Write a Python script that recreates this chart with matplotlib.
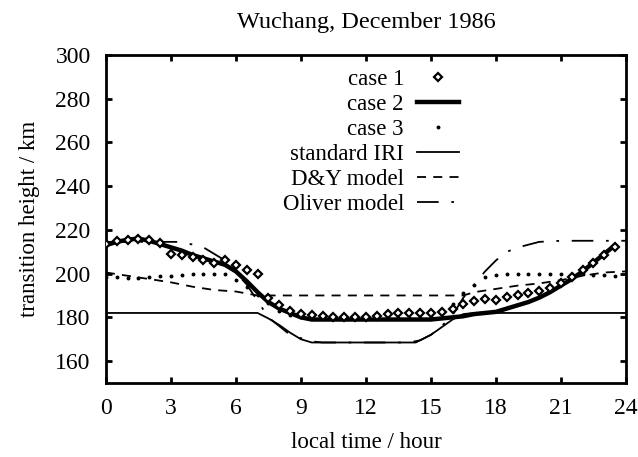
import numpy as np
import matplotlib
matplotlib.use('Agg')
import matplotlib.pyplot as plt

plt.rcParams['font.family'] = ['Liberation Serif', 'DejaVu Serif']

# local time (hours) for the half-hourly cases
hours = np.arange(0, 24, 0.5)

# case 1 (diamonds)
case1 = [213.5, 215, 215.5, 216, 215.5, 214, 209, 208.5, 207.5, 206,
         205, 206, 204, 201.5, 200, 189, 185.5, 183, 181.5, 181,
         180.5, 180, 180, 180, 180, 180.5, 181.5, 182, 182, 182,
         182, 182.5, 184, 186, 187.5, 188.5, 188, 189.5, 190, 191,
         192, 193.5, 195.5, 198.5, 201.5, 205, 208.5, 212]

# case 2 (thick line)
case2 = [213, 214.5, 215.5, 216, 215, 213.5, 212, 210.5, 208.5, 207,
         205.5, 204, 201, 196.5, 191.5, 187, 184, 182, 180, 179,
         179, 179, 179, 179, 179, 179, 179, 179, 179, 179,
         179, 179.5, 180, 180.5, 181.5, 182, 182.5, 184, 185.5, 187,
         189, 191.5, 194.5, 197.5, 201, 205, 209, 213]

# case 3 (dots)
case3 = [198.5, 198.5, 198, 198, 198.5, 199, 199, 199.5, 200, 200,
         200, 200, 197, 194, 190, 186.5, 183, 181, 180, 179.5,
         179.5, 179.5, 179.5, 179.5, 179.5, 179.5, 179.5, 179.5, 179.5, 179.5,
         180, 182, 186, 191, 195, 198.5, 199.5, 200, 200, 200,
         200, 200, 200, 200, 200, 199.5, 199.5, 199]

# standard IRI
iri_t = [0, 7, 7.5, 8, 8.5, 9, 9.5, 14.3, 15, 15.5, 16, 16.5, 17, 24]
iri_h = [182, 182, 179.5, 176.5, 173, 170, 168.5, 168.5, 172, 175.5, 179, 181.5, 182, 182]

# D&Y model
dy_t = [0, 1, 2, 3, 4, 5, 6, 7, 16.5, 17, 18, 19, 20, 21, 22, 23, 24]
dy_h = [200.5, 199, 197.5, 196, 194, 192.5, 191.8, 190, 190, 191.5, 193, 194.5, 195.5, 197, 199, 200.5, 201]

# Oliver model
ol_t = [0, 3.5, 4.5, 5.5, 6.5, 7.5, 8.5, 9.5, 10, 14, 14.5, 15, 15.5, 16, 16.5,
        17, 17.5, 18, 18.5, 19.3, 20, 21, 24]
ol_h = [214.5, 214.5, 212, 206, 195, 180, 172, 169, 168.5, 168.5, 169.5, 172, 176, 181, 189,
        195, 201, 206, 210, 212.7, 214.5, 215, 215]

fig = plt.figure(figsize=(6.38, 4.57), dpi=100)
ax = fig.add_axes([0.166, 0.162, 0.815, 0.718])

ax.plot(hours, case1, linestyle='none', marker='D', markersize=4.5,
        markerfacecolor='white', markeredgecolor='black', markeredgewidth=1.6,
        label='case 1', zorder=4)
ax.plot(hours, case2, color='black', linewidth=3.2, label='case 2', zorder=3)
ax.plot(hours, case3, linestyle='none', marker='o', markersize=1.8,
        color='black', label='case 3', zorder=3)
ax.plot(iri_t, iri_h, color='black', linewidth=1.3, label='standard IRI')
ax.plot(dy_t, dy_h, color='black', linewidth=1.3, linestyle=(0, (5, 4)),
        label='D&Y model')
ax.plot(ol_t, ol_h, color='black', linewidth=1.3, linestyle=(0, (12, 7, 1.5, 7)),
        label='Oliver model')

ax.set_xlim(0, 24)
ax.set_ylim(150, 300)
ax.set_xticks(range(0, 25, 3))
ax.set_yticks(range(160, 301, 20))
ax.tick_params(direction='in', length=4, width=2, top=True, right=True,
               labelsize=17, pad=11)
for s in ax.spines.values():
    s.set_linewidth(2)

ax.set_title('Wuchang, December 1986', fontsize=17.5, pad=19)
ax.set_xlabel('local time / hour', fontsize=16.5, labelpad=9)
ax.set_ylabel('transition height / km', fontsize=16.5, labelpad=11)

ax.legend(loc='upper right', bbox_to_anchor=(0.679, 0.956), frameon=False,
          markerfirst=False, numpoints=1, fontsize=16.5, labelspacing=0.17,
          handlelength=1.83, handletextpad=0.57, borderpad=0, borderaxespad=0)

fig.savefig('out.png', dpi=100)
